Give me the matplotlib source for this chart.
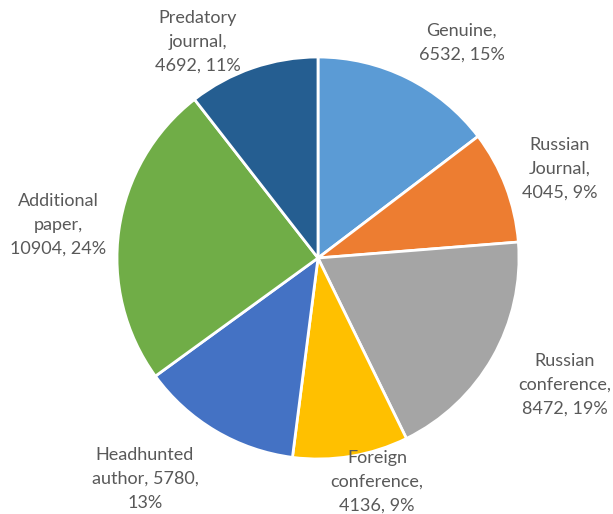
import matplotlib.pyplot as plt

# wedge data, clockwise from 12 o'clock
categories = ["Genuine", "Russian Journal", "Russian conference", "Foreign conference",
              "Headhunted author", "Additional paper", "Predatory journal"]
counts = [6532, 4045, 8472, 4136, 5780, 10904, 4692]
colors = ["#5B9BD5", "#ED7D31", "#A5A5A5", "#FFC000", "#4472C4", "#70AD47", "#255E91"]

# how each label wraps (value / percent filled in below)
label_fmt = [
    "Genuine,\n{v}, {p}%",
    "Russian\nJournal,\n{v}, {p}%",
    "Russian\nconference,\n{v}, {p}%",
    "Foreign\nconference,\n{v}, {p}%",
    "Headhunted\nauthor, {v},\n{p}%",
    "Additional\npaper,\n{v}, {p}%",
    "Predatory\njournal,\n{v}, {p}%",
]

# label centres in pie units (radius = 1)
label_pos = [(0.716, 1.070), (1.204, 0.443), (1.229, -0.632), (0.294, -1.114),
             (-0.861, -1.100), (-1.294, 0.164), (-0.597, 1.075)]

plt.rcParams["font.family"] = ["Lato", "DejaVu Sans"]

fig = plt.figure(figsize=(6.13, 5.14), dpi=100)
ax = fig.add_axes([0, 0, 1, 1])
ax.pie(counts, colors=colors, startangle=90, counterclock=False, radius=1.0,
       wedgeprops=dict(edgecolor="white", linewidth=2))
ax.set_xlim(-318 / 201, 295 / 201)
ax.set_ylim(-256 / 201, 258 / 201)
ax.set_aspect("auto")
ax.axis("off")

total = sum(counts)
for fmt, v, (x, y) in zip(label_fmt, counts, label_pos):
    txt = fmt.format(v=v, p=round(100 * v / total))
    ax.text(x, y, txt, ha="center", va="center", fontsize=13,
            color="#595959", linespacing=1.6)

fig.savefig("out.png", dpi=100)
